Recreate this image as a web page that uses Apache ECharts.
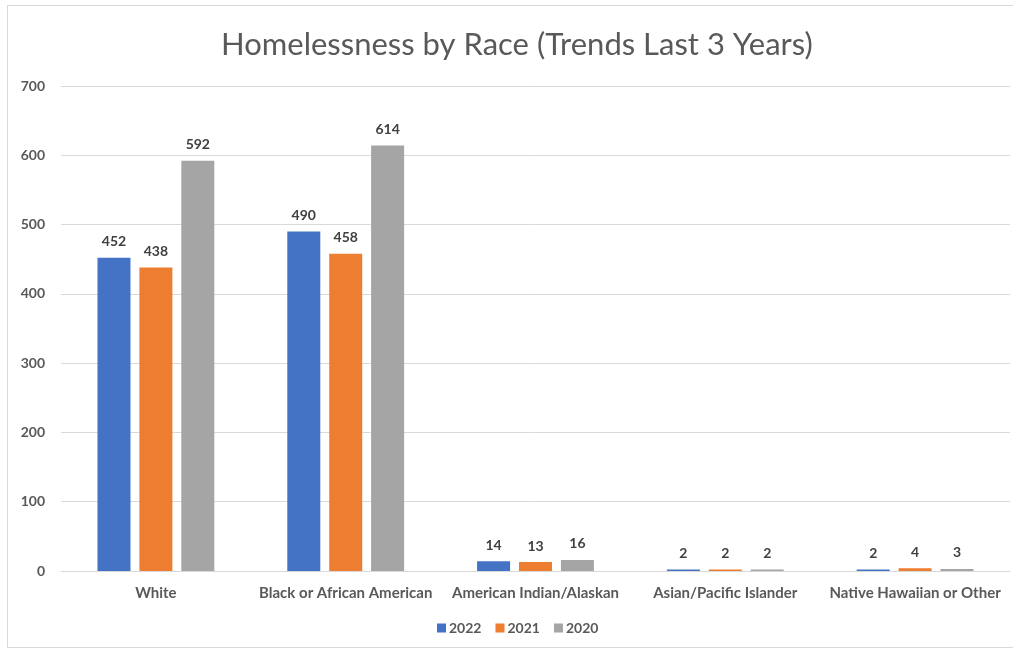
<!DOCTYPE html>
<html>
<head>
<meta charset="utf-8">
<script src="https://cdn.jsdelivr.net/npm/echarts@6/dist/echarts.min.js"></script>
<style>
  html, body { margin: 0; padding: 0; background: #fff; }
  #frame { position: absolute; left: 7px; top: 5px; width: 1010px; height: 641px; border: 1px solid #d9d9d9; }
  #chart { position: absolute; left: 0; top: 0; width: 1013px; height: 650px; }
</style>
</head>
<body>
<div id="frame"></div>
<div id="chart"></div>
<script>
  // 数据
  const categories = ['White', 'Black or African American', 'American Indian/Alaskan', 'Asian/Pacific Islander', 'Native Hawaiian or Other']
  const years = ['2022', '2021', '2020']
  const data2022 = [452, 490, 14, 2, 2]
  const data2021 = [438, 458, 13, 2, 4]
  const data2020 = [592, 614, 16, 2, 3]
  const colors = ['#4472c4', '#ed7d31', '#a5a5a5']

  let myChart = echarts.init(document.getElementById('chart'))
  const font = 'Lato'

  function bar(name, values) {
    return {
      name: name,
      type: 'bar',
      barWidth: 33,
      barGap: '27%',
      data: values,
      label: {
        show: true,
        position: 'top',
        distance: 9,
        color: '#404040',
        fontSize: 14,
        fontWeight: 'bold',
        fontFamily: font
      }
    }
  }

  let option = {
    color: colors,
    title: {
      text: 'Homelessness by Race (Trends Last 3 Years)',
      left: 216,
      top: 24,
      textStyle: {
        fontFamily: font,
        fontSize: 31,
        fontWeight: 'normal',
        color: '#595959'
      }
    },
    legend: {
      data: years,
      bottom: 10,
      left: 432,
      itemWidth: 9,
      itemHeight: 9,
      itemGap: 14,
      icon: 'rect',
      textStyle: { color: '#595959', fontSize: 14, fontWeight: 'bold', fontFamily: font, padding: [0, 0, 0, -2] }
    },
    grid: {
      left: 61,
      right: 3,
      top: 86,
      bottom: 79
    },
    xAxis: {
      type: 'category',
      data: categories,
      axisTick: { show: false },
      axisLine: { lineStyle: { color: '#d9d9d9' } },
      axisLabel: { interval: 0, color: '#595959', fontSize: 15, fontWeight: 'bold', fontFamily: font, margin: 15 }
    },
    yAxis: {
      type: 'value',
      min: 0,
      max: 700,
      interval: 100,
      axisLabel: { color: '#595959', fontSize: 14, fontWeight: 'bold', fontFamily: font, margin: 16 },
      splitLine: { lineStyle: { color: '#d9d9d9' } }
    },
    series: [
      bar(years[0], data2022),
      bar(years[1], data2021),
      bar(years[2], data2020)
    ]
  }

  myChart.setOption(option)
</script>
</body>
</html>
